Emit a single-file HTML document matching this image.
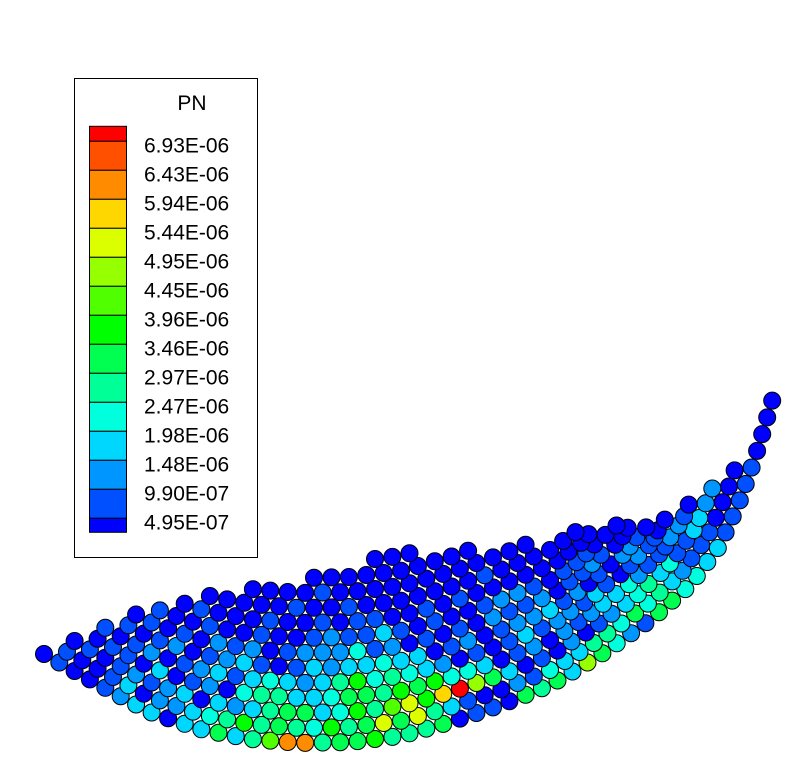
<!DOCTYPE html>
<html><head><meta charset="utf-8"><style>
html,body{margin:0;padding:0;background:#fff;}
svg{display:block;font-family:"Liberation Sans",sans-serif;}
</style></head><body>
<svg id="chart" width="812" height="769" viewBox="0 0 812 769">
<g id="legend">
<rect x="74.5" y="78.5" width="183" height="479" fill="#fff" stroke="#000" stroke-width="1"/>
<text x="192" y="110" font-size="21" text-anchor="middle">PN</text>
</g>
<g id="particles"></g>
</svg>
<script>
const legendLabels=["6.93E-06","6.43E-06","5.94E-06","5.44E-06","4.95E-06","4.45E-06","3.96E-06","3.46E-06","2.97E-06","2.47E-06","1.98E-06","1.48E-06","9.90E-07","4.95E-07"];
const levelColors=["#0000ff","#0050ff","#0096ff","#00d7ff","#00ffdc","#00ff96","#00ff50","#00ff00","#50ff00","#96ff00","#dcff00","#ffd700","#ff8c00","#ff5000","#ff0000"];
// bottom edge of the particle bed (centres) and bed thickness at each point
const edgeX=[44,100,150,200,250,300,350,400,450,500,550,600,650,690,720,740,755,773];
const edgeY=[654,685,712,729,739,743,742,736,722,705,685,655,620,585,545,500,458,398];
const bedThickness=[0,52,104,132,152,160,170,184,166,155,145,125,100,72,52,33,10,0];
// particle levels per layer (layer 0 = bottom), index along the bed
const layerLevels=[
"0100123303"+"36358cc566"+"7555601106"+"5639642166"+"4433111110"+"0000",
"0100130223"+"4575654756"+"a6a5310021"+"4335546453"+"2111000000"+"000",
"0001012123"+"0323566347"+"58a7be9630"+"1020123453"+"4113322210"+"0000",
"0010110301"+"2045533466"+"5767443012"+"0212334211"+"1221000000"+"00",
"0100101201"+"2313432357"+"4543201013"+"1221310121"+"1000000000",
"0010010120"+"1231013233"+"4330120122"+"3120102210"+"0000000000",
"0100010101"+"0212012224"+"1201010211"+"2011210000"+"000000",
"0010100100"+"1001001211"+"3101001221"+"0111000000",
"0000010000"+"1000100101"+"1001010000"+"0000000000",
"0000000000"+"0000010010"+"0000001000"+"0000000000",
"0000000000"+"0000000100"+"0000000000",
"0000000000"+"0000000000"+"000000",
"0000000000"+"0000000000"+"00000"];
const SP=17.5, LAYER=15, R=8.5;
const NS="http://www.w3.org/2000/svg";
const lg=document.getElementById('legend');
const bandH=29, barTop=141.3;
{const r=document.createElementNS(NS,'rect');
r.setAttribute('x',89.5);r.setAttribute('y',126.3);r.setAttribute('width',37);r.setAttribute('height',15);
r.setAttribute('fill',levelColors[14]);r.setAttribute('stroke','#000');r.setAttribute('stroke-width','1');


lg.appendChild(r);}
legendLabels.forEach((lab,i)=>{
 const r=document.createElementNS(NS,'rect');
 const h=(i===legendLabels.length-1)?14:bandH;
 r.setAttribute('x',89.5);r.setAttribute('y',barTop+i*bandH);r.setAttribute('width',37);r.setAttribute('height',h);
 r.setAttribute('fill',levelColors[13-i]);r.setAttribute('stroke','#000');r.setAttribute('stroke-width','1');
 
 
 lg.appendChild(r);
 const t=document.createElementNS(NS,'text');
 t.setAttribute('x',144);t.setAttribute('y',barTop+i*bandH+11);t.setAttribute('font-size','21');
 t.textContent=lab;
 
 
 lg.appendChild(t);
});
const cum=[0];
for(let i=1;i<edgeX.length;i++){cum.push(cum[i-1]+Math.hypot(edgeX[i]-edgeX[i-1],edgeY[i]-edgeY[i-1]));}
const total=cum[cum.length-1];
function at(s){
 s=Math.max(0,Math.min(total,s));
 let j=1;while(j<cum.length-1&&cum[j]<s)j++;
 const f=(s-cum[j-1])/(cum[j]-cum[j-1]);
 return {x:edgeX[j-1]+f*(edgeX[j]-edgeX[j-1]),y:edgeY[j-1]+f*(edgeY[j]-edgeY[j-1]),t:bedThickness[j-1]+f*(bedThickness[j]-bedThickness[j-1])};
}
const pg=document.getElementById('particles');
function addP(x,y,l){
 const c=document.createElementNS(NS,'circle');
 c.setAttribute('cx',x.toFixed(1));c.setAttribute('cy',y.toFixed(1));c.setAttribute('r',R);
 c.setAttribute('fill',levelColors[l]);c.setAttribute('stroke','#000');c.setAttribute('stroke-width','1');
 
 
 pg.appendChild(c);
}
layerLevels.forEach((str,k)=>{
 for(let i=0;i<str.length;i++){
  const s=i*SP+(k%2)*SP/2;
  if(s>total)break;
  const p=at(s);
  if(k*LAYER>p.t+3)continue;
  const a=at(s-20),b=at(s+20);
  let tx=b.x-a.x,ty=b.y-a.y;const L=Math.hypot(tx,ty)||1;tx/=L;ty/=L;
  let nx=ty<-0.5?(ty+0.5)*2:0, ny=-Math.abs(tx);
  const nl=Math.hypot(nx,ny)||1;nx/=nl;ny/=nl;
  addP(p.x+nx*k*LAYER,p.y+ny*k*LAYER,parseInt(str[i],16));
 }
});
</script>
</body></html>
